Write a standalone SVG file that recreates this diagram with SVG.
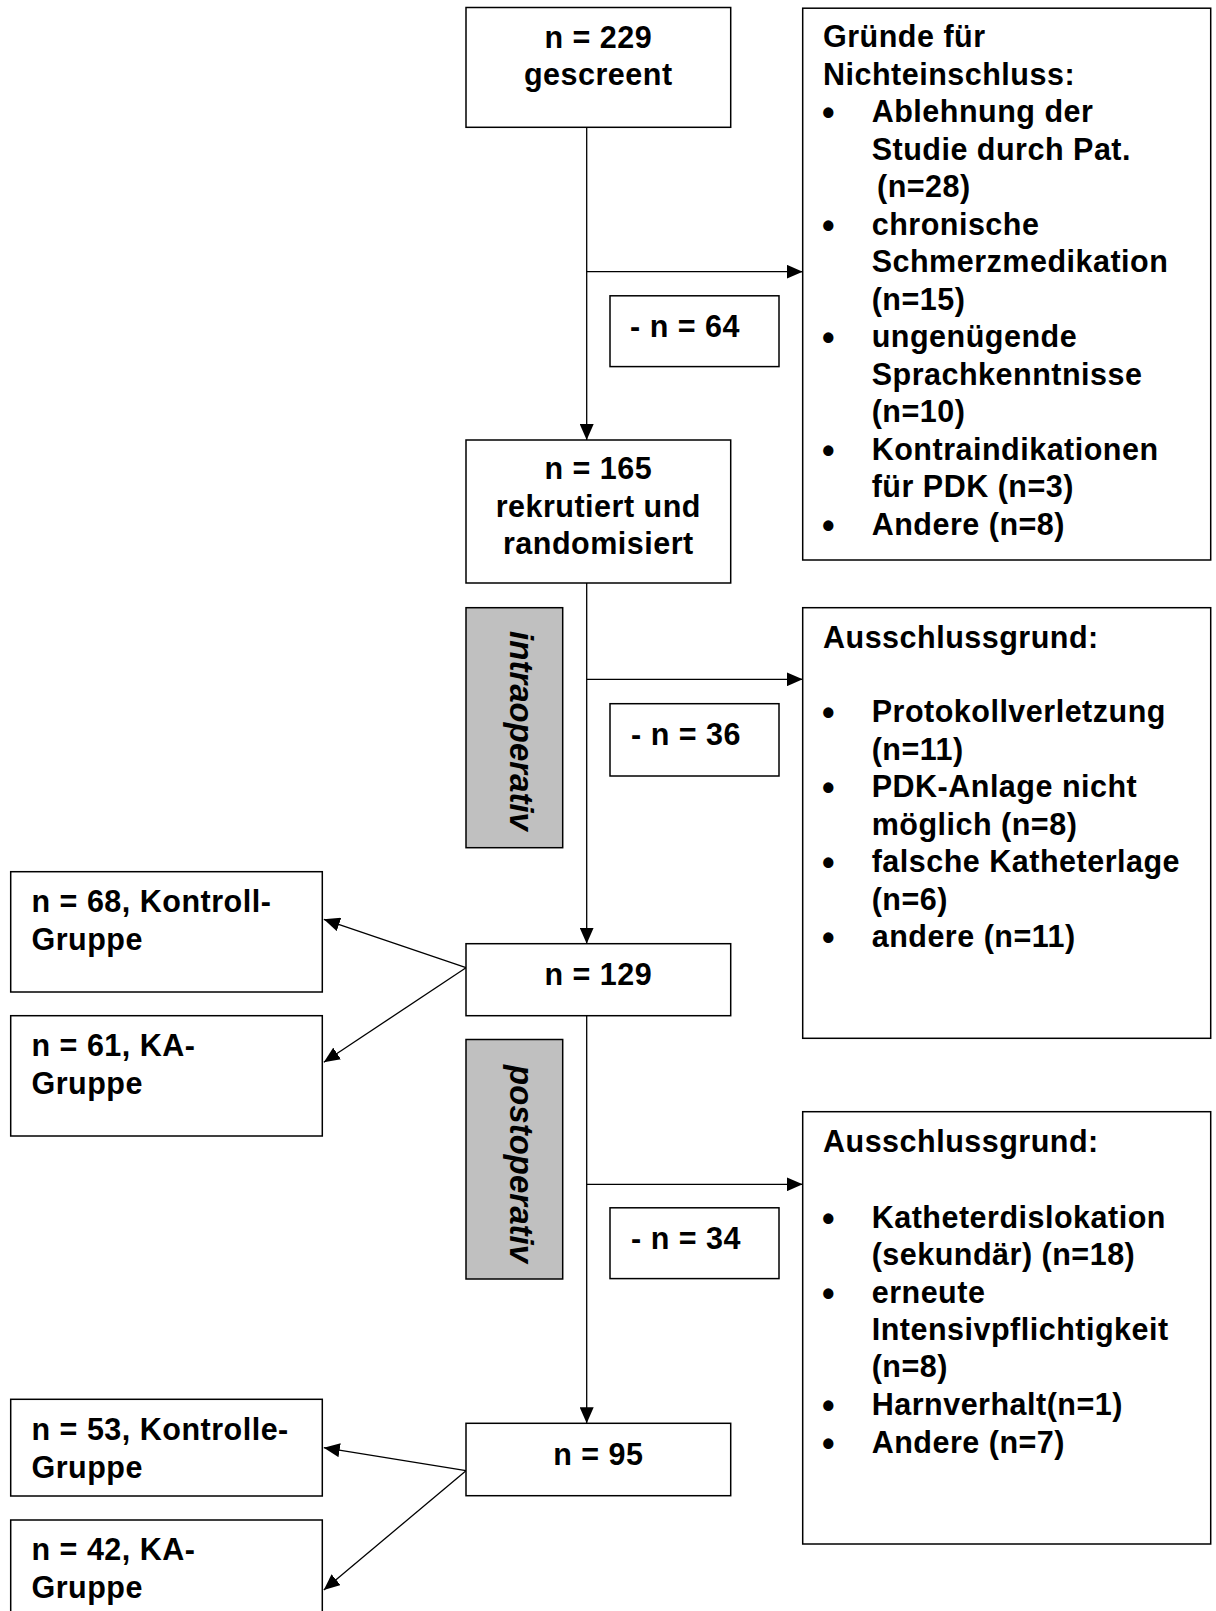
<svg xmlns="http://www.w3.org/2000/svg" width="1216" height="1611" viewBox="0 0 1216 1611">
<defs>
<style>
.box{fill:#ffffff;stroke:#000000;stroke-width:1.5}
.gray{fill:#c0c0c0;stroke:#000000;stroke-width:1.5}
.ln{fill:none;stroke:#000000;stroke-width:1.3}
.t{font-family:"Liberation Sans",Arial,Helvetica,sans-serif;font-weight:bold;font-size:30.5px;letter-spacing:0.5px;fill:#000000}
.c{text-anchor:middle}
.b{font-family:"Liberation Sans",Arial,Helvetica,sans-serif;font-weight:bold;font-size:36px;fill:#000000}
.r{font-family:"Liberation Sans",Arial,Helvetica,sans-serif;font-weight:bold;font-style:italic;font-size:33px;fill:#000000;text-anchor:middle}
</style>
<marker id="ah" markerUnits="userSpaceOnUse" markerWidth="16" markerHeight="14" refX="16" refY="7" orient="auto">
<path d="M0,0 L16,7 L0,14 z" fill="#000000"/>
</marker>
</defs>
<rect width="1216" height="1611" fill="#ffffff"/>

<g id="connectors">
<line class="ln" x1="586.7" y1="127.3" x2="586.7" y2="440" marker-end="url(#ah)"/>
<line class="ln" x1="586.7" y1="271.7" x2="802.7" y2="271.7" marker-end="url(#ah)"/>
<line class="ln" x1="586.7" y1="583" x2="586.7" y2="943.7" marker-end="url(#ah)"/>
<line class="ln" x1="586.7" y1="679.3" x2="802.7" y2="679.3" marker-end="url(#ah)"/>
<line class="ln" x1="586.7" y1="1015.7" x2="586.7" y2="1423.3" marker-end="url(#ah)"/>
<line class="ln" x1="586.7" y1="1184.3" x2="802.7" y2="1184.3" marker-end="url(#ah)"/>
<line class="ln" x1="466" y1="967.7" x2="323.8" y2="919.3" marker-end="url(#ah)"/>
<line class="ln" x1="466" y1="967.7" x2="323.8" y2="1062.3" marker-end="url(#ah)"/>
<line class="ln" x1="466" y1="1470.7" x2="323.8" y2="1447.7" marker-end="url(#ah)"/>
<line class="ln" x1="466" y1="1470.7" x2="323.8" y2="1590" marker-end="url(#ah)"/>
</g>

<g id="n229">
<rect class="box" x="466" y="7.5" width="264.7" height="119.8"/>
<text class="t c" x="598.3" y="48">n = 229</text>
<text class="t c" x="598.3" y="85">gescreent</text>
</g>

<g id="gruende">
<rect class="box" x="802.7" y="8.2" width="408" height="551.8"/>
<text class="t" x="823" y="47">Gründe für</text>
<text class="t" x="823" y="84.5">Nichteinschluss:</text>
<text class="b" x="822" y="125">•</text>
<text class="t" x="871.7" y="122">Ablehnung der</text>
<text class="t" x="871.7" y="159.5">Studie durch Pat.</text>
<text class="t" x="877" y="197">(n=28)</text>
<text class="b" x="822" y="237.5">•</text>
<text class="t" x="871.7" y="234.5">chronische</text>
<text class="t" x="871.7" y="272">Schmerzmedikation</text>
<text class="t" x="871.7" y="309.5">(n=15)</text>
<text class="b" x="822" y="350">•</text>
<text class="t" x="871.7" y="347">ungenügende</text>
<text class="t" x="871.7" y="384.5">Sprachkenntnisse</text>
<text class="t" x="871.7" y="422">(n=10)</text>
<text class="b" x="822" y="462.5">•</text>
<text class="t" x="871.7" y="459.5">Kontraindikationen</text>
<text class="t" x="871.7" y="497">für PDK (n=3)</text>
<text class="b" x="822" y="537.5">•</text>
<text class="t" x="871.7" y="534.5">Andere (n=8)</text>
</g>

<g id="minus64">
<rect class="box" x="610" y="295.8" width="169" height="70.8"/>
<text class="t" x="630" y="337">- n = 64</text>
</g>

<g id="n165">
<rect class="box" x="466" y="440" width="264.7" height="143"/>
<text class="t c" x="598.3" y="479">n = 165</text>
<text class="t c" x="598.3" y="516.5">rekrutiert und</text>
<text class="t c" x="598.3" y="554">randomisiert</text>
</g>

<g id="intraoperativ">
<rect class="gray" x="466" y="607.7" width="96.7" height="240"/>
<text class="r" transform="translate(510,731) rotate(90)" x="0" y="0">intraoperativ</text>
</g>

<g id="minus36">
<rect class="box" x="610" y="703.7" width="169" height="72.3"/>
<text class="t" x="631" y="745">- n = 36</text>
</g>

<g id="ausschluss1">
<rect class="box" x="802.7" y="607.7" width="408" height="430.6"/>
<text class="t" x="823" y="647.7">Ausschlussgrund:</text>
<text class="b" x="822" y="725">•</text>
<text class="t" x="871.7" y="722">Protokollverletzung</text>
<text class="t" x="871.7" y="759.5">(n=11)</text>
<text class="b" x="822" y="800">•</text>
<text class="t" x="871.7" y="797">PDK-Anlage nicht</text>
<text class="t" x="871.7" y="834.5">möglich (n=8)</text>
<text class="b" x="822" y="875">•</text>
<text class="t" x="871.7" y="872">falsche Katheterlage</text>
<text class="t" x="871.7" y="909.5">(n=6)</text>
<text class="b" x="822" y="950">•</text>
<text class="t" x="871.7" y="947">andere (n=11)</text>
</g>

<g id="kontroll68">
<rect class="box" x="10.7" y="871.7" width="311.6" height="120.3"/>
<text class="t" x="31.5" y="912">n = 68, Kontroll-</text>
<text class="t" x="31.5" y="949.5">Gruppe</text>
</g>

<g id="ka61">
<rect class="box" x="10.7" y="1015.7" width="311.6" height="120.3"/>
<text class="t" x="31.5" y="1056">n = 61, KA-</text>
<text class="t" x="31.5" y="1093.5">Gruppe</text>
</g>

<g id="n129">
<rect class="box" x="466" y="943.7" width="264.7" height="72"/>
<text class="t c" x="598.3" y="985">n = 129</text>
</g>

<g id="postoperativ">
<rect class="gray" x="466" y="1039.5" width="96.7" height="239.5"/>
<text class="r" transform="translate(510,1164) rotate(90)" x="0" y="0">postoperativ</text>
</g>

<g id="minus34">
<rect class="box" x="610" y="1207.8" width="169" height="70.8"/>
<text class="t" x="631" y="1249">- n = 34</text>
</g>

<g id="ausschluss2">
<rect class="box" x="802.7" y="1111.7" width="408" height="432.3"/>
<text class="t" x="823" y="1151.7">Ausschlussgrund:</text>
<text class="b" x="822" y="1230.7">•</text>
<text class="t" x="871.7" y="1227.7">Katheterdislokation</text>
<text class="t" x="871.7" y="1265">(sekundär) (n=18)</text>
<text class="b" x="822" y="1305.7">•</text>
<text class="t" x="871.7" y="1302.7">erneute</text>
<text class="t" x="871.7" y="1340">Intensivpflichtigkeit</text>
<text class="t" x="871.7" y="1377">(n=8)</text>
<text class="b" x="822" y="1418">•</text>
<text class="t" x="871.7" y="1415">Harnverhalt(n=1)</text>
<text class="b" x="822" y="1455.7">•</text>
<text class="t" x="871.7" y="1452.7">Andere (n=7)</text>
</g>

<g id="kontrolle53">
<rect class="box" x="10.7" y="1399.3" width="311.6" height="96.7"/>
<text class="t" x="31.5" y="1440">n = 53, Kontrolle-</text>
<text class="t" x="31.5" y="1477.5">Gruppe</text>
</g>

<g id="ka42">
<rect class="box" x="10.7" y="1520" width="311.6" height="120"/>
<text class="t" x="31.5" y="1560">n = 42, KA-</text>
<text class="t" x="31.5" y="1597.5">Gruppe</text>
</g>

<g id="n95">
<rect class="box" x="466" y="1423.3" width="264.7" height="72.4"/>
<text class="t c" x="598.3" y="1465">n = 95</text>
</g>
</svg>
